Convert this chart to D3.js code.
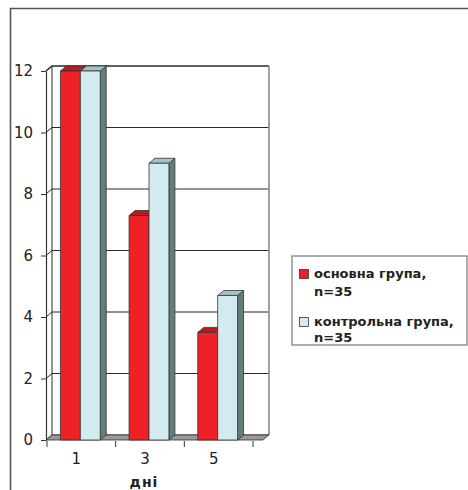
<!DOCTYPE html>
<html>
<head>
<meta charset="utf-8">
<script src="https://cdn.jsdelivr.net/npm/d3@7"></script>
<style>
  html, body { margin: 0; padding: 0; background: #fff; }
  svg { display: block; }
</style>
</head>
<body>
<svg id="chart" width="468" height="490"></svg>
<script>
// Days of observation and values for both groups
const days = ["1", "3", "5"];
const seriesNames = ["основна група, n=35", "контрольна група, n=35"];
const mainGroup = [12, 7.3, 3.5];
const controlGroup = [12, 9.0, 4.7];
const yTickValues = [0, 2, 4, 6, 8, 10, 12];
const xTitle = "дні";

const legendLines = [["основна група,", "n=35"], ["контрольна група,", "n=35"]];

const W = 468, H = 490;
const svg = d3.select("#chart");

// 3D depth offsets
const DX = 6, DY = 5;
const plotLeft = 46, plotBottom = 440, plotTop = 71;
const plotRight = 263;

const y = d3.scaleLinear().domain([0, 12]).range([plotBottom, plotTop]);
const x0 = d3.scaleBand().domain(days).range([plotLeft, 252])
  .paddingInner(0.42).paddingOuter(0.21);
const x1 = d3.scaleBand().domain(seriesNames).range([0, x0.bandwidth()]);

const fills = [
  { front: "#ee2127", top: "#b51d22", side: "#8e1418" },
  { front: "#d3eaf1", top: "#a2c2c4", side: "#627e7b" }
];
const textFont = "'DejaVu Sans', sans-serif";

// Outer frame
svg.append("path")
  .attr("d", `M10.5,${H} L10.5,8.5 L${W},8.5`)
  .attr("fill", "none").attr("stroke", "#555").attr("stroke-width", 1.6);

// Back wall gridlines with side-wall diagonals
const grid = svg.append("g").attr("stroke", "#2a2a2a").attr("stroke-width", 1).attr("fill", "none");
yTickValues.forEach(t => {
  const yy = y(t);
  grid.append("path")
    .attr("d", `M${plotLeft},${yy} L${plotLeft + DX},${yy - DY} L${plotRight + DX},${yy - DY}`)
    .attr("stroke-width", t === 12 ? 1.6 : 1);
});
// back wall left edge
grid.append("line")
  .attr("x1", plotLeft + DX).attr("x2", plotLeft + DX)
  .attr("y1", y(12) - DY).attr("y2", y(0) - DY);
// right wall edge
svg.append("line")
  .attr("x1", plotRight + DX).attr("x2", plotRight + DX)
  .attr("y1", y(12) - DY).attr("y2", y(0) - DY)
  .attr("stroke", "#8a8a8a").attr("stroke-width", 1.6);

// Floor
svg.append("path")
  .attr("d", `M${plotLeft},${y(0)} L${plotRight},${y(0)} L${plotRight + DX},${y(0) - DY} L${plotLeft + DX},${y(0) - DY} Z`)
  .attr("fill", "#999").attr("stroke", "#333").attr("stroke-width", 0.8);

// Y axis
const yAxis = svg.append("g")
  .attr("transform", `translate(${plotLeft},0)`)
  .call(d3.axisLeft(y).tickValues(yTickValues).tickSize(5).tickSizeOuter(0).tickPadding(8));
yAxis.select(".domain").attr("stroke", "#333").attr("stroke-width", 1.2);
yAxis.selectAll(".tick line").attr("stroke", "#333");
yAxis.selectAll(".tick text")
  .attr("fill", "#222")
  .style("font-family", textFont)
  .style("font-size", "15px");

// Bars as 3D boxes
const rows = days.map((d, i) => ({ day: d, values: [mainGroup[i], controlGroup[i]] }));
const bars = svg.append("g").attr("stroke", "#333").attr("stroke-width", 0.8).attr("stroke-linejoin", "round");
rows.forEach(r => {
  r.values.forEach((v, si) => {
    const bx = x0(r.day) + x1(seriesNames[si]);
    const bw = x1.bandwidth();
    const by = y(v), bb = y(0);
    const c = fills[si];
    bars.append("path")
      .attr("d", `M${bx + bw},${bb} L${bx + bw + DX},${bb - DY} L${bx + bw + DX},${by - DY} L${bx + bw},${by} Z`)
      .attr("fill", c.side);
    bars.append("path")
      .attr("d", `M${bx},${by} L${bx + DX},${by - DY} L${bx + bw + DX},${by - DY} L${bx + bw},${by} Z`)
      .attr("fill", c.top);
    bars.append("rect")
      .attr("x", bx).attr("y", by).attr("width", bw).attr("height", bb - by)
      .attr("fill", c.front);
  });
});

// X axis ticks at category boundaries
const step = x0.step();
const xTicks = svg.append("g").attr("stroke", "#333").attr("stroke-width", 1);
d3.range(days.length + 1).forEach(i => {
  const xx = plotLeft + 1 + i * step;
  xTicks.append("line").attr("x1", xx).attr("x2", xx).attr("y1", plotBottom + 1).attr("y2", plotBottom + 7);
});
svg.append("g").selectAll("text").data(days).join("text")
  .attr("x", d => x0(d) + x0.bandwidth() / 2 - 4)
  .attr("y", 464)
  .attr("text-anchor", "middle")
  .attr("fill", "#222")
  .style("font-family", textFont)
  .style("font-size", "15px")
  .text(d => d);
svg.append("text")
  .attr("x", 144).attr("y", 487)
  .attr("text-anchor", "middle")
  .attr("fill", "#222")
  .style("font-family", textFont)
  .style("font-size", "14px")
  .style("font-weight", "bold")
  .style("letter-spacing", "1px")
  .text(xTitle);

// Legend
const lg = svg.append("g");
lg.append("rect")
  .attr("x", 292).attr("y", 256).attr("width", 175).attr("height", 89)
  .attr("fill", "#fff").attr("stroke", "#777").attr("stroke-width", 1.2);
const swatchTops = [269, 317];
const lineBaselines = [[278, 296], [326, 342]];
legendLines.forEach((lines, i) => {
  lg.append("rect")
    .attr("x", 299.5).attr("y", swatchTops[i] + 0.5).attr("width", 9).attr("height", 9)
    .attr("fill", fills[i].front).attr("stroke", "#333").attr("stroke-width", 0.8);
  lines.forEach((ln, j) => {
    lg.append("text")
      .attr("x", 314).attr("y", lineBaselines[i][j])
      .attr("fill", "#222")
      .style("font-family", textFont)
      .style("font-size", "13px")
      .style("font-weight", "bold")
      .text(ln);
  });
});
</script>
</body>
</html>
